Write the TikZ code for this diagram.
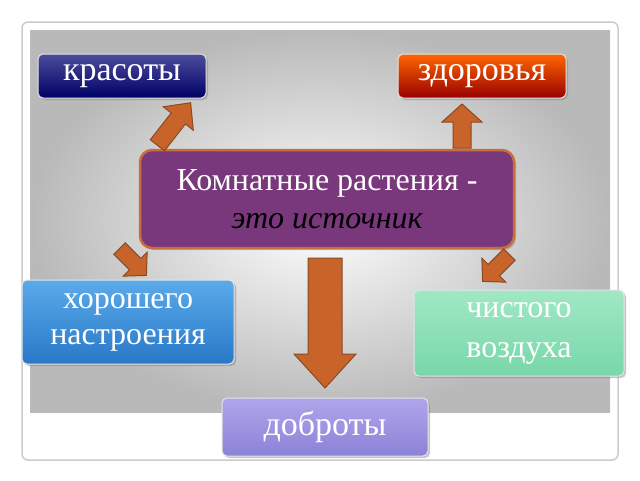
\documentclass[tikz,border=0pt]{standalone}
\usepackage{fontspec}
\setmainfont{Liberation Serif}
\usetikzlibrary{shadows}
\definecolor{arrfill}{HTML}{C8642A}
\definecolor{arrline}{HTML}{8A4A22}
\tikzset{
 box/.style={rounded corners=5pt, text=white, align=center, font=\fontsize{34}{36}\selectfont,
   drop shadow={opacity=.45, shadow xshift=2pt, shadow yshift=-2pt}, draw=white!80!gray, line width=1pt},
 blk/.style={draw=arrline, fill=arrfill, line width=1pt, line join=miter}
}
% block arrow: centre x, y, angle, length, shaft, head width, head length
\newcommand\blkarrow[7]{%
 \draw[blk, shift={(#1,#2)}, rotate=#3]
  (-#4/2,-#5/2) -- (#4/2-#7,-#5/2) -- (#4/2-#7,-#6/2) -- (#4/2,0)
  -- (#4/2-#7,#6/2) -- (#4/2-#7,#5/2) -- (-#4/2,#5/2) -- cycle;}
\begin{document}
\begin{tikzpicture}[x=1pt,y=-1pt]
\useasboundingbox (0,0) rectangle (640,480);
\fill[white] (0,0) rectangle (640,480);
% frame
\draw[rounded corners=6pt, gray!40, line width=1.5pt, fill=white] (22,22) rectangle (618,460);
\shade[inner color=white, outer color=gray!55] (30,30) rectangle (610,412);
% boxes
\node[box, top color=blue!45!black!70!white, bottom color=blue!40!black, minimum width=168pt, minimum height=44pt] (kras) at (122,76) {красоты};
\node[box, top color=orange!80!red, bottom color=red!60!black, minimum width=168pt, minimum height=44pt] (zdor) at (482,76) {здоровья};
\node[box, fill={rgb,255:red,122;green,56;blue,124}, draw={rgb,255:red,200;green,110;blue,60}, line width=2.5pt, rounded corners=12pt, minimum width=374pt, minimum height=98pt, font=\fontsize{32}{38}\selectfont] (main) at (327,199) {Комнатные растения -\\{\itshape\color{black}это источник}};
\node[box, top color={rgb,255:red,90;green,170;blue,235}, bottom color={rgb,255:red,40;green,120;blue,200}, minimum width=212pt, minimum height=84pt, font=\fontsize{32}{36}\selectfont] (nastr) at (128,322) {хорошего\\настроения};
\node[box, top color={rgb,255:red,160;green,232;blue,195}, bottom color={rgb,255:red,120;green,215;blue,170}, minimum width=210pt, minimum height=86pt, font=\fontsize{32}{40}\selectfont] (vozd) at (519,333) {чистого\\воздуха};
\node[box, top color={rgb,255:red,175;green,165;blue,235}, bottom color={rgb,255:red,140;green,130;blue,215}, minimum width=206pt, minimum height=58pt] (dobr) at (325,427) {доброты};
% arrows
\blkarrow{174}{124}{52}{54}{18}{38}{20}
\blkarrow{462}{126}{90}{44}{18}{40}{18}
\blkarrow{133}{262}{-45}{38}{16}{34}{16}
\blkarrow{496}{268}{-135}{38}{16}{34}{16}
\blkarrow{325}{323}{-90}{130}{34}{62}{34}
\end{tikzpicture}
\end{document}
